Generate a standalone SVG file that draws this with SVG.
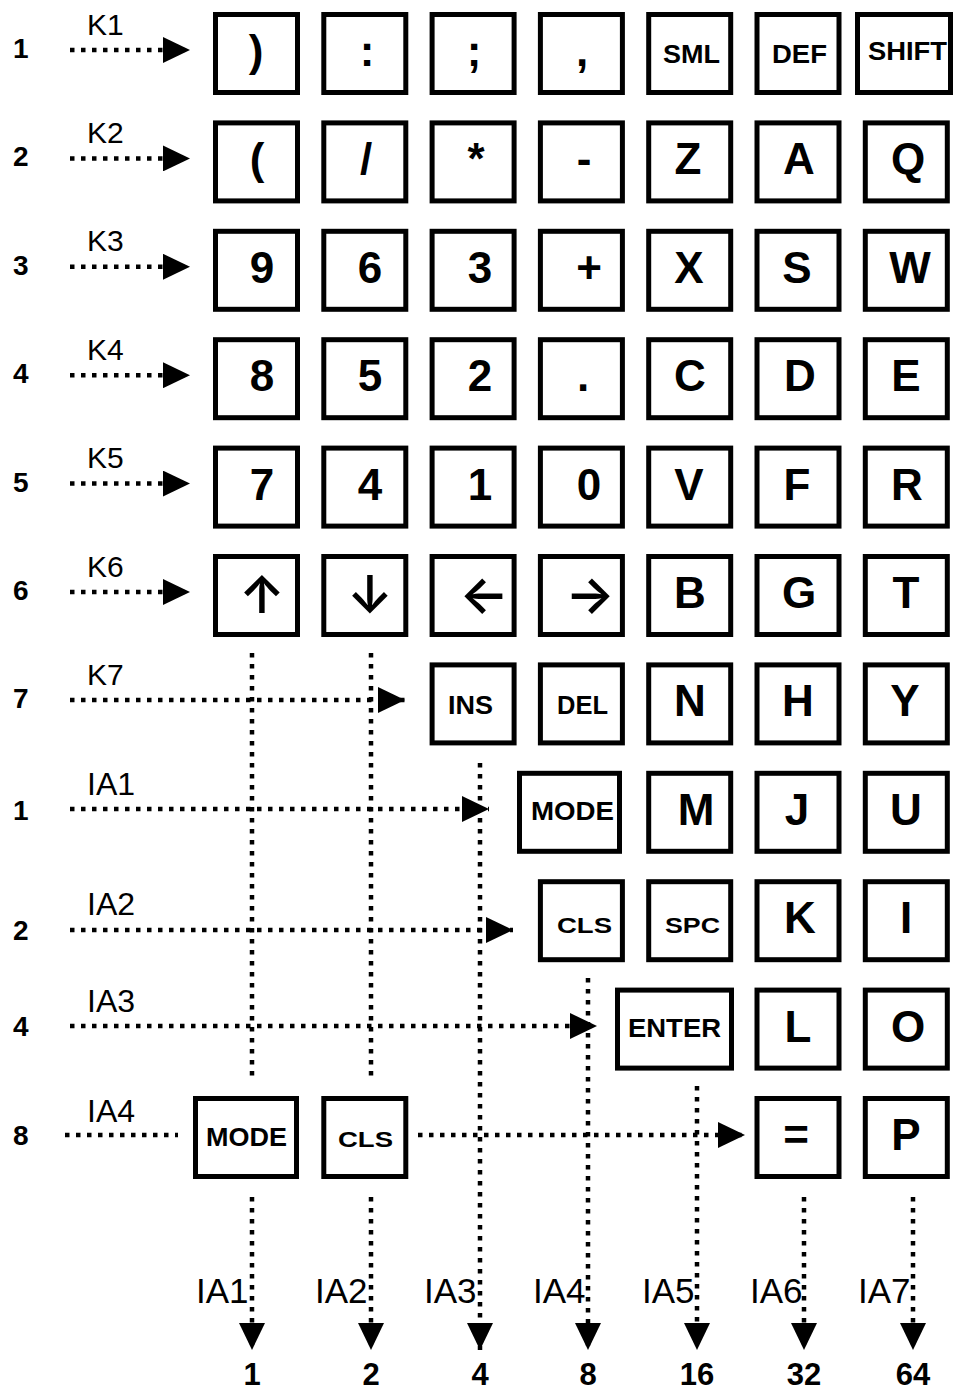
<svg xmlns="http://www.w3.org/2000/svg" width="958" height="1392" viewBox="0 0 958 1392">
<defs>
<style>
.bg{fill:#fff}
.key{fill:#fff;stroke:#000;stroke-width:5}
.big{font-family:"Liberation Sans",Arial,sans-serif;font-weight:bold;font-size:44px;text-anchor:middle;fill:#000}
.ar{font-family:Inter,"DejaVu Sans",sans-serif;font-weight:600;font-size:52px;text-anchor:middle;fill:#000}
.sm{font-family:"Liberation Sans",Arial,sans-serif;font-weight:bold;font-size:26px;text-anchor:middle;fill:#000}
.xs{font-family:"Liberation Sans",Arial,sans-serif;font-weight:bold;font-size:22px;text-anchor:middle;fill:#000}
.rn{font-family:"Liberation Sans",Arial,sans-serif;font-weight:bold;font-size:28px;fill:#000}
.lb{font-family:"Liberation Sans",Arial,sans-serif;font-size:30px;fill:#000}
.ia{font-family:"Liberation Sans",Arial,sans-serif;font-size:32px;fill:#000}
.bl{font-family:"Liberation Sans",Arial,sans-serif;font-size:35px;fill:#000}
.bn{font-family:"Liberation Sans",Arial,sans-serif;font-weight:bold;font-size:31px;text-anchor:middle;fill:#000}
.dot{fill:none;stroke:#000;stroke-width:4.5;stroke-dasharray:4.5 6.5}
.arr{marker-end:url(#ah)}
</style>
<marker id="ah" markerUnits="userSpaceOnUse" markerWidth="27" markerHeight="26" refX="27" refY="13" orient="auto" viewBox="0 0 27 26">
<path d="M0,0 L27,13 L0,26 Z" fill="#000"/>
</marker>
</defs>
<rect class="bg" x="0" y="0" width="958" height="1392"/>

<g id="connectors">
<line class="dot arr" x1="70" y1="50" x2="190" y2="50"/>
<line class="dot arr" x1="70" y1="158.4" x2="190" y2="158.4"/>
<line class="dot arr" x1="70" y1="266.8" x2="190" y2="266.8"/>
<line class="dot arr" x1="70" y1="375.2" x2="190" y2="375.2"/>
<line class="dot arr" x1="70" y1="483.6" x2="190" y2="483.6"/>
<line class="dot arr" x1="70" y1="592" x2="190" y2="592"/>
<line class="dot arr" x1="70" y1="700" x2="405" y2="700"/>
<line class="dot arr" x1="70" y1="809" x2="489" y2="809"/>
<line class="dot arr" x1="70" y1="930" x2="513" y2="930"/>
<line class="dot arr" x1="70" y1="1026" x2="597" y2="1026"/>
<line class="dot" x1="65" y1="1135" x2="178" y2="1135"/>
<line class="dot arr" x1="418" y1="1135" x2="745" y2="1135"/>
<line class="dot" x1="252" y1="653" x2="252" y2="1082"/>
<line class="dot" x1="371" y1="653" x2="371" y2="1082"/>
<line class="dot arr" x1="252" y1="1197" x2="252" y2="1350"/>
<line class="dot arr" x1="371" y1="1197" x2="371" y2="1350"/>
<line class="dot arr" x1="480" y1="763" x2="480" y2="1350"/>
<line class="dot arr" x1="588" y1="978" x2="588" y2="1350"/>
<line class="dot arr" x1="697" y1="1086" x2="697" y2="1350"/>
<line class="dot arr" x1="804" y1="1197" x2="804" y2="1350"/>
<line class="dot arr" x1="913" y1="1197" x2="913" y2="1350"/>
</g>

<g id="row-labels">
<text class="rn" x="13" y="58">1</text>
<text class="rn" x="13" y="166">2</text>
<text class="rn" x="13" y="275">3</text>
<text class="rn" x="13" y="383">4</text>
<text class="rn" x="13" y="492">5</text>
<text class="rn" x="13" y="600">6</text>
<text class="rn" x="13" y="708">7</text>
<text class="rn" x="13" y="820">1</text>
<text class="rn" x="13" y="940">2</text>
<text class="rn" x="13" y="1036">4</text>
<text class="rn" x="13" y="1145">8</text>
<text class="lb" x="87" y="35">K1</text>
<text class="lb" x="87" y="143">K2</text>
<text class="lb" x="87" y="251">K3</text>
<text class="lb" x="87" y="360">K4</text>
<text class="lb" x="87" y="468">K5</text>
<text class="lb" x="87" y="577">K6</text>
<text class="lb" x="87" y="685">K7</text>
<text class="ia" x="87" y="795">IA1</text>
<text class="ia" x="87" y="915">IA2</text>
<text class="ia" x="87" y="1012">IA3</text>
<text class="ia" x="87" y="1122">IA4</text>
</g>

<g id="col-labels">
<text class="bl" x="196" y="1303">IA1</text>
<text class="bl" x="315" y="1303">IA2</text>
<text class="bl" x="424" y="1303">IA3</text>
<text class="bl" x="533" y="1303">IA4</text>
<text class="bl" x="642" y="1303">IA5</text>
<text class="bl" x="750" y="1303">IA6</text>
<text class="bl" x="858" y="1303">IA7</text>
<text class="bn" x="252" y="1385">1</text>
<text class="bn" x="371" y="1385">2</text>
<text class="bn" x="480" y="1385">4</text>
<text class="bn" x="588" y="1385">8</text>
<text class="bn" x="697" y="1385">16</text>
<text class="bn" x="804" y="1385">32</text>
<text class="bn" x="913" y="1385">64</text>
</g>

<!-- Row 1 -->
<g id="k-rparen"><rect class="key" x="215.5" y="14.5" width="82" height="78"/><text class="big" x="256" y="66">)</text></g>
<g id="k-colon"><rect class="key" x="323.8" y="14.5" width="82" height="78"/><text class="big" x="367" y="66">:</text></g>
<g id="k-semi"><rect class="key" x="432.1" y="14.5" width="82" height="78"/><text class="big" x="474" y="66">;</text></g>
<g id="k-comma"><rect class="key" x="540.4" y="14.5" width="82" height="78"/><text class="big" x="582" y="66">,</text></g>
<g id="k-sml"><rect class="key" x="648.7" y="14.5" width="82" height="78"/><text class="sm" x="691.5" y="63" textLength="57" lengthAdjust="spacingAndGlyphs">SML</text></g>
<g id="k-def"><rect class="key" x="757" y="14.5" width="82" height="78"/><text class="sm" x="799.5" y="63" textLength="55" lengthAdjust="spacingAndGlyphs">DEF</text></g>
<g id="k-shift"><rect class="key" x="857.5" y="14.5" width="93" height="78"/><text class="sm" x="907.5" y="60" textLength="79" lengthAdjust="spacingAndGlyphs">SHIFT</text></g>

<!-- Row 2 -->
<g id="k-lparen"><rect class="key" x="215.5" y="122.9" width="82" height="78"/><text class="big" x="257" y="174.4">(</text></g>
<g id="k-slash"><rect class="key" x="323.8" y="122.9" width="82" height="78"/><text class="big" x="366" y="174.4">/</text></g>
<g id="k-star"><rect class="key" x="432.1" y="122.9" width="82" height="78"/><text class="big" x="476" y="174.4">*</text></g>
<g id="k-minus"><rect class="key" x="540.4" y="122.9" width="82" height="78"/><text class="big" x="584" y="174.4">-</text></g>
<g id="k-z"><rect class="key" x="648.7" y="122.9" width="82" height="78"/><text class="big" x="688" y="174.4">Z</text></g>
<g id="k-a"><rect class="key" x="757" y="122.9" width="82" height="78"/><text class="big" x="799" y="174.4">A</text></g>
<g id="k-q"><rect class="key" x="865.3" y="122.9" width="82" height="78"/><text class="big" x="908" y="174.4">Q</text></g>

<!-- Row 3 -->
<g id="k-9"><rect class="key" x="215.5" y="231.3" width="82" height="78"/><text class="big" x="262" y="282.8">9</text></g>
<g id="k-6"><rect class="key" x="323.8" y="231.3" width="82" height="78"/><text class="big" x="370" y="282.8">6</text></g>
<g id="k-3"><rect class="key" x="432.1" y="231.3" width="82" height="78"/><text class="big" x="480" y="282.8">3</text></g>
<g id="k-plus"><rect class="key" x="540.4" y="231.3" width="82" height="78"/><text class="big" x="589" y="282.8">+</text></g>
<g id="k-x"><rect class="key" x="648.7" y="231.3" width="82" height="78"/><text class="big" x="689" y="282.8">X</text></g>
<g id="k-s"><rect class="key" x="757" y="231.3" width="82" height="78"/><text class="big" x="797" y="282.8">S</text></g>
<g id="k-w"><rect class="key" x="865.3" y="231.3" width="82" height="78"/><text class="big" x="910" y="282.8">W</text></g>

<!-- Row 4 -->
<g id="k-8"><rect class="key" x="215.5" y="339.7" width="82" height="78"/><text class="big" x="262" y="391.2">8</text></g>
<g id="k-5"><rect class="key" x="323.8" y="339.7" width="82" height="78"/><text class="big" x="370" y="391.2">5</text></g>
<g id="k-2"><rect class="key" x="432.1" y="339.7" width="82" height="78"/><text class="big" x="480" y="391.2">2</text></g>
<g id="k-dot"><rect class="key" x="540.4" y="339.7" width="82" height="78"/><text class="big" x="583" y="391.2">.</text></g>
<g id="k-c"><rect class="key" x="648.7" y="339.7" width="82" height="78"/><text class="big" x="690" y="391.2">C</text></g>
<g id="k-d"><rect class="key" x="757" y="339.7" width="82" height="78"/><text class="big" x="800" y="391.2">D</text></g>
<g id="k-e"><rect class="key" x="865.3" y="339.7" width="82" height="78"/><text class="big" x="906" y="391.2">E</text></g>

<!-- Row 5 -->
<g id="k-7"><rect class="key" x="215.5" y="448.1" width="82" height="78"/><text class="big" x="262" y="499.6">7</text></g>
<g id="k-4"><rect class="key" x="323.8" y="448.1" width="82" height="78"/><text class="big" x="370" y="499.6">4</text></g>
<g id="k-1"><rect class="key" x="432.1" y="448.1" width="82" height="78"/><text class="big" x="480" y="499.6">1</text></g>
<g id="k-0"><rect class="key" x="540.4" y="448.1" width="82" height="78"/><text class="big" x="589" y="499.6">0</text></g>
<g id="k-v"><rect class="key" x="648.7" y="448.1" width="82" height="78"/><text class="big" x="689" y="499.6">V</text></g>
<g id="k-f"><rect class="key" x="757" y="448.1" width="82" height="78"/><text class="big" x="797" y="499.6">F</text></g>
<g id="k-r"><rect class="key" x="865.3" y="448.1" width="82" height="78"/><text class="big" x="907" y="499.6">R</text></g>

<!-- Row 6 -->
<g id="k-up"><rect class="key" x="215.5" y="556.5" width="82" height="78"/><text class="ar" x="262" y="613">↑</text></g>
<g id="k-down"><rect class="key" x="323.8" y="556.5" width="82" height="78"/><text class="ar" x="370" y="613">↓</text></g>
<g id="k-left"><rect class="key" x="432.1" y="556.5" width="82" height="78"/><text class="ar" x="484" y="613">←</text></g>
<g id="k-right"><rect class="key" x="540.4" y="556.5" width="82" height="78"/><text class="ar" x="590" y="613">→</text></g>
<g id="k-b"><rect class="key" x="648.7" y="556.5" width="82" height="78"/><text class="big" x="690" y="608">B</text></g>
<g id="k-g"><rect class="key" x="757" y="556.5" width="82" height="78"/><text class="big" x="799" y="608">G</text></g>
<g id="k-t"><rect class="key" x="865.3" y="556.5" width="82" height="78"/><text class="big" x="906" y="608">T</text></g>

<!-- Row 7 -->
<g id="k-ins"><rect class="key" x="432.1" y="664.9" width="82" height="78"/><text class="sm" x="470.5" y="714" textLength="45" lengthAdjust="spacingAndGlyphs">INS</text></g>
<g id="k-del"><rect class="key" x="540.4" y="664.9" width="82" height="78"/><text class="sm" x="582.5" y="714" textLength="51" lengthAdjust="spacingAndGlyphs">DEL</text></g>
<g id="k-n"><rect class="key" x="648.7" y="664.9" width="82" height="78"/><text class="big" x="690" y="716.4">N</text></g>
<g id="k-h"><rect class="key" x="757" y="664.9" width="82" height="78"/><text class="big" x="798" y="716.4">H</text></g>
<g id="k-y"><rect class="key" x="865.3" y="664.9" width="82" height="78"/><text class="big" x="905" y="716.4">Y</text></g>

<!-- Row IA1 -->
<g id="k-mode1"><rect class="key" x="519.5" y="773.3" width="100" height="78"/><text class="sm" x="572.5" y="820" textLength="83" lengthAdjust="spacingAndGlyphs">MODE</text></g>
<g id="k-m"><rect class="key" x="648.7" y="773.3" width="82" height="78"/><text class="big" x="696" y="824.8">M</text></g>
<g id="k-j"><rect class="key" x="757" y="773.3" width="82" height="78"/><text class="big" x="797" y="824.8">J</text></g>
<g id="k-u"><rect class="key" x="865.3" y="773.3" width="82" height="78"/><text class="big" x="906" y="824.8">U</text></g>

<!-- Row IA2 -->
<g id="k-cls1"><rect class="key" x="540.4" y="881.7" width="82" height="78"/><text class="xs" x="584.5" y="933" textLength="55" lengthAdjust="spacingAndGlyphs">CLS</text></g>
<g id="k-spc"><rect class="key" x="648.7" y="881.7" width="82" height="78"/><text class="xs" x="692.5" y="933" textLength="55" lengthAdjust="spacingAndGlyphs">SPC</text></g>
<g id="k-k"><rect class="key" x="757" y="881.7" width="82" height="78"/><text class="big" x="800" y="933.2">K</text></g>
<g id="k-i"><rect class="key" x="865.3" y="881.7" width="82" height="78"/><text class="big" x="906" y="933.2">I</text></g>

<!-- Row IA3 -->
<g id="k-enter"><rect class="key" x="617.5" y="990.1" width="114" height="78"/><text class="sm" x="674.5" y="1037" textLength="93" lengthAdjust="spacingAndGlyphs">ENTER</text></g>
<g id="k-l"><rect class="key" x="757" y="990.1" width="82" height="78"/><text class="big" x="798" y="1041.6">L</text></g>
<g id="k-o"><rect class="key" x="865.3" y="990.1" width="82" height="78"/><text class="big" x="908" y="1041.6">O</text></g>

<!-- Row IA4 -->
<g id="k-mode2"><rect class="key" x="195.5" y="1098.5" width="101" height="78"/><text class="sm" x="246.5" y="1146" textLength="81" lengthAdjust="spacingAndGlyphs">MODE</text></g>
<g id="k-cls2"><rect class="key" x="323.8" y="1098.5" width="82" height="78"/><text class="xs" x="365.5" y="1147" textLength="55" lengthAdjust="spacingAndGlyphs">CLS</text></g>
<g id="k-eq"><rect class="key" x="757" y="1098.5" width="82" height="78"/><text class="big" x="796" y="1150">=</text></g>
<g id="k-p"><rect class="key" x="865.3" y="1098.5" width="82" height="78"/><text class="big" x="906" y="1150">P</text></g>
</svg>
